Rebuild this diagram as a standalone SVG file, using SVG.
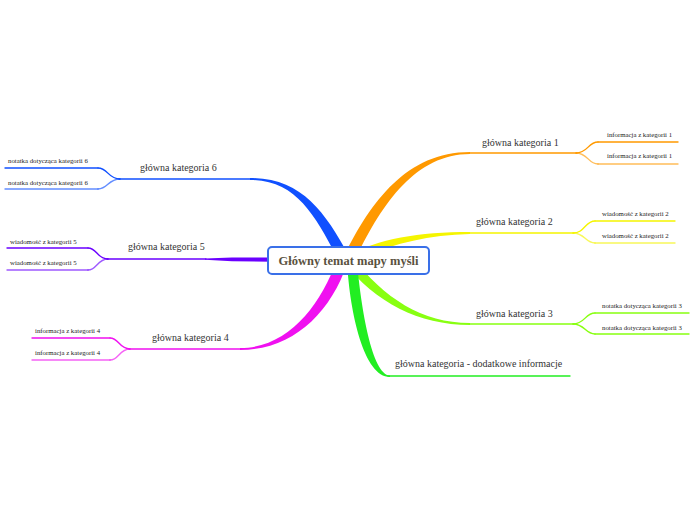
<svg xmlns="http://www.w3.org/2000/svg" width="697" height="520" viewBox="0 0 697 520">
<style>
.cat{font-family:"Liberation Serif","Times New Roman",serif;font-size:10px;fill:#333}
.note{font-family:"Liberation Serif","Times New Roman",serif;font-size:6.8px;fill:#222}
.main{font-family:"Liberation Serif","Times New Roman",serif;font-size:12.5px;font-weight:bold;fill:#5a5240}
.ln{fill:none;stroke-width:1.4;stroke-linecap:round}
.lt{opacity:0.65}
</style>
<rect width="697" height="520" fill="#fff"/>
<g id="connectors">
  <path d="M 343 258 C 370 203, 406 152, 470 152 L 470 154 C 414 154, 380 207, 354 262 Z" fill="#ff9900"/>
  <path d="M 346 257 C 376 239, 418 232, 470 232 L 470 234 C 422 235, 382 247, 350 263 Z" fill="#f5f500"/>
  <path d="M 352 257 C 384 298, 422 323, 470 323 L 470 325 C 418 325, 376 302, 344 263 Z" fill="#88ff11"/>
  <path d="M 347 262 C 350 314, 364 377, 390 377 L 390 375.5 C 372 375, 361 308, 357 262 Z" fill="#22ee22"/>
  <path d="M 250 178 C 302 178, 325 212, 350 257.5 L 340 262.5 C 316 218, 298 180, 250 180 Z" fill="#1050ff"/>
  <path d="M 205 258.4 L 232 257.6 L 272 257.4 L 272 261.8 L 232 261.2 L 205 259.8 Z" fill="#6a00ff"/>
  <path d="M 240 348 C 288 348, 320 306, 337 260 L 347 264 C 330 314, 292 350, 240 350 Z" fill="#f010f0"/>
  <path class="ln" stroke="#ff9900" d="M 576 153 C 588 153, 588 142, 598 142"/>
  <path class="ln lt" stroke="#ff9900" d="M 576 153 C 588 153, 588 164, 598 164"/>
  <path class="ln" stroke="#f5f500" d="M 573 233 C 585 233, 585 221, 595 221"/>
  <path class="ln lt" stroke="#f5f500" d="M 573 233 C 585 233, 585 243, 595 243"/>
  <path class="ln" stroke="#88ff11" d="M 573 324 C 585 324, 585 313, 595 313"/>
  <path class="ln" stroke="#88ff11" d="M 573 324 C 585 324, 585 334, 595 334"/>
  <path class="ln" stroke="#1050ff" d="M 120 179 C 108 179, 108 168, 98 168"/>
  <path class="ln lt" stroke="#1050ff" d="M 120 179 C 108 179, 108 189, 98 189"/>
  <path class="ln" stroke="#6a00ff" d="M 108 259 C 97 259, 97 248, 88 248"/>
  <path class="ln lt" stroke="#6a00ff" d="M 108 259 C 97 259, 97 270, 88 270"/>
  <path class="ln" stroke="#f010f0" d="M 130 349 C 119 349, 119 338, 110 338"/>
  <path class="ln lt" stroke="#f010f0" d="M 130 349 C 119 349, 119 360, 110 360"/>
</g>
<g id="cat1">
  <line class="ln" stroke="#ff9900" x1="470" y1="153" x2="577" y2="153"/>
  <text class="cat" x="482" y="146">główna kategoria 1</text>
</g>
<g id="note1a">
  <line class="ln" stroke="#ff9900" x1="598" y1="142" x2="678" y2="142"/>
  <text class="note" x="607" y="137">informacja z kategorii 1</text>
</g>
<g id="note1b">
  <line class="ln lt" stroke="#ff9900" x1="598" y1="164" x2="678" y2="164"/>
  <text class="note" x="607" y="158">informacja z kategorii 1</text>
</g>
<g id="cat2">
  <line class="ln" stroke="#f5f500" x1="470" y1="233" x2="574" y2="233"/>
  <text class="cat" x="476" y="225">główna kategoria 2</text>
</g>
<g id="note2a">
  <line class="ln" stroke="#f5f500" x1="595" y1="221" x2="675" y2="221"/>
  <text class="note" x="602" y="216">wiadomość z kategorii 2</text>
</g>
<g id="note2b">
  <line class="ln lt" stroke="#f5f500" x1="595" y1="243" x2="675" y2="243"/>
  <text class="note" x="602" y="238">wiadomość z kategorii 2</text>
</g>
<g id="cat3">
  <line class="ln" stroke="#88ff11" x1="470" y1="324" x2="574" y2="324"/>
  <text class="cat" x="476" y="317">główna kategoria 3</text>
</g>
<g id="note3a">
  <line class="ln" stroke="#88ff11" x1="595" y1="313" x2="689" y2="313"/>
  <text class="note" x="602" y="308">notatka dotycząca kategorii 3</text>
</g>
<g id="note3b">
  <line class="ln" stroke="#88ff11" x1="595" y1="334" x2="689" y2="334"/>
  <text class="note" x="602" y="330">notatka dotycząca kategorii 3</text>
</g>
<g id="catExtra">
  <line class="ln" stroke="#22ee22" x1="388" y1="376" x2="570" y2="376"/>
  <text class="cat" x="395" y="367">główna kategoria - dodatkowe informacje</text>
</g>
<g id="cat6">
  <line class="ln" stroke="#1050ff" x1="119" y1="179" x2="251" y2="179"/>
  <text class="cat" x="140" y="171">główna kategoria 6</text>
</g>
<g id="note6a">
  <line class="ln" stroke="#1050ff" x1="5" y1="168" x2="98" y2="168"/>
  <text class="note" x="8" y="163">notatka dotycząca kategorii 6</text>
</g>
<g id="note6b">
  <line class="ln lt" stroke="#1050ff" x1="5" y1="189" x2="98" y2="189"/>
  <text class="note" x="8" y="185">notatka dotycząca kategorii 6</text>
</g>
<g id="cat5">
  <line class="ln" stroke="#6a00ff" x1="107" y1="259" x2="206" y2="259"/>
  <text class="cat" x="128" y="250">główna kategoria 5</text>
</g>
<g id="note5a">
  <line class="ln" stroke="#6a00ff" x1="7" y1="248" x2="88" y2="248"/>
  <text class="note" x="10" y="244">wiadomość z kategorii 5</text>
</g>
<g id="note5b">
  <line class="ln lt" stroke="#6a00ff" x1="7" y1="270" x2="88" y2="270"/>
  <text class="note" x="10" y="265">wiadomość z kategorii 5</text>
</g>
<g id="cat4">
  <line class="ln" stroke="#f010f0" x1="129" y1="349" x2="241" y2="349"/>
  <text class="cat" x="152" y="341">główna kategoria 4</text>
</g>
<g id="note4a">
  <line class="ln" stroke="#f010f0" x1="32" y1="338" x2="110" y2="338"/>
  <text class="note" x="35" y="333">informacja z kategorii 4</text>
</g>
<g id="note4b">
  <line class="ln lt" stroke="#f010f0" x1="32" y1="360" x2="110" y2="360"/>
  <text class="note" x="35" y="355">informacja z kategorii 4</text>
</g>
<g id="central">
  <rect x="268" y="247" width="161" height="27" rx="4" fill="#fff" stroke="#3a70e8" stroke-width="2"/>
  <text class="main" x="348.5" y="265" text-anchor="middle">Główny temat mapy myśli</text>
</g>
</svg>
